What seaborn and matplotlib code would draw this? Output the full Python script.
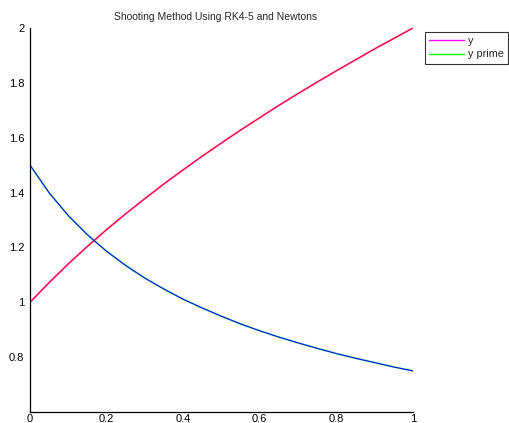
import matplotlib
matplotlib.use("Agg")
import matplotlib.pyplot as plt
import seaborn as sns
import pandas as pd

# Solution of the boundary value problem at the integration nodes
t = [0.00, 0.05, 0.10, 0.15, 0.20, 0.25, 0.30, 0.35, 0.40, 0.45, 0.50,
     0.55, 0.60, 0.65, 0.70, 0.75, 0.80, 0.85, 0.90, 0.95, 1.00]
y = [1.000, 1.072, 1.140, 1.204, 1.265, 1.323, 1.378, 1.432, 1.483, 1.533, 1.581,
     1.628, 1.673, 1.718, 1.761, 1.803, 1.844, 1.884, 1.924, 1.962, 2.000]
y_prime = [1.500, 1.399, 1.316, 1.246, 1.186, 1.134, 1.088, 1.048, 1.011, 0.979, 0.949,
           0.921, 0.896, 0.873, 0.852, 0.832, 0.813, 0.796, 0.780, 0.764, 0.750]

series_labels = ["y", "y prime"]
x_ticks = [0, 0.2, 0.4, 0.6, 0.8, 1]
y_ticks = [0.8, 1.0, 1.2, 1.4, 1.6, 1.8, 2.0]

df = pd.DataFrame({"t": t, "y": y, "yp": y_prime})

sns.set_style("white")
plt.rcParams["font.family"] = ["Liberation Sans", "DejaVu Sans"]

fig = plt.figure(figsize=(5.10, 4.23), dpi=100)
ax = fig.add_axes([30 / 510, 1 - 412 / 423, 383 / 510, 384 / 423])

# shooting-method result
sns.lineplot(data=df, x="t", y="y", ax=ax, color="#ff00ff", lw=1.3, label=series_labels[0])
sns.lineplot(data=df, x="t", y="yp", ax=ax, color="#00ff00", lw=1.3, label=series_labels[1])
# reference curves drawn on top
sns.lineplot(data=df, x="t", y="y", ax=ax, color="#ff0000", lw=0.8, legend=False)
sns.lineplot(data=df, x="t", y="yp", ax=ax, color="#0000ff", lw=0.8, legend=False)
for ln in ax.lines[:2]:
    ln.set_alpha(0.6)
for ln in ax.lines[2:]:
    ln.set_alpha(0.95)

ax.set_xlim(0, 1)
ax.set_ylim(0.6, 2.0)
ax.set_xticks(x_ticks)
ax.set_xticklabels(["0", "0.2", "0.4", "0.6", "0.8", "1"])
ax.set_yticks(y_ticks)
ax.set_yticklabels(["0.8", "1", "1.2", "1.4", "1.6", "1.8", "2"])
ax.set_xlabel("")
ax.set_ylabel("")
ax.tick_params(direction="in", length=4, width=0.8, labelsize=8, color="black",
               labelcolor="black")
ax.tick_params(axis="x", pad=1.5)
ax.tick_params(axis="y", pad=4)
for side in ["top", "right"]:
    ax.spines[side].set_visible(False)
for side in ["left", "bottom"]:
    ax.spines[side].set_visible(True)
    ax.spines[side].set_color("black")
    ax.spines[side].set_linewidth(0.9)

ax.set_title("Shooting Method Using RK4-5 and Newtons", fontsize=7.5, pad=6, x=0.485)

leg = ax.legend(loc="upper left", bbox_to_anchor=(1.031, 0.99), fontsize=7.8,
                frameon=True, fancybox=False, shadow=False, handlelength=3.2,
                borderpad=0.4, labelspacing=0.3, handletextpad=0.35,
                borderaxespad=0)
leg.get_frame().set_edgecolor("black")
leg.get_frame().set_linewidth(0.8)
for h in leg.get_lines():
    h.set_alpha(1.0)
    h.set_linewidth(1.0)

fig.savefig("out.png", dpi=100)
